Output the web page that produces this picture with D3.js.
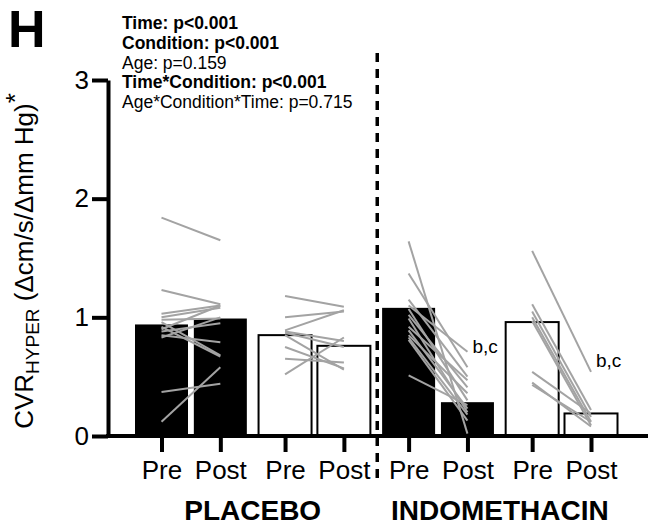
<!DOCTYPE html>
<html>
<head>
<meta charset="utf-8">
<script src="https://cdn.jsdelivr.net/npm/d3@7"></script>
<style>
  body { margin: 0; background: #fff; }
  svg { font-family: "Liberation Sans", Arial, sans-serif; }
</style>
</head>
<body>
<svg id="chart"></svg>
<script>
// values
var groups = ["PLACEBO", "INDOMETHACIN"];
var times = ["Pre", "Post", "Pre", "Post", "Pre", "Post", "Pre", "Post"];
var barAge = ["young", "young", "older", "older", "young", "young", "older", "older"];
var barValues = [0.94, 0.99, 0.85, 0.76, 1.08, 0.285, 0.96, 0.19];
var yTicks = [0, 1, 2, 3];

// individual subjects, [pre, post]
var placeboYoung = [[1.84, 1.65], [1.23, 1.11], [1.03, 1.10], [1.00, 1.08], [0.98, 0.99],
  [0.96, 0.68], [0.92, 0.67], [0.90, 1.10], [0.85, 0.79], [0.83, 1.00],
  [0.88, 0.95], [0.37, 0.44], [0.12, 0.58]];
var placeboOlder = [[1.18, 1.09], [1.00, 1.05], [0.89, 1.06], [0.87, 0.75], [0.85, 0.56],
  [0.88, 0.80], [0.75, 0.57], [0.65, 0.62], [0.52, 0.83]];
var indoYoung = [[1.64, 0.02], [1.37, 0.58], [1.15, 0.50], [1.10, 0.71], [1.07, 0.30],
  [1.02, 0.41], [0.99, 0.20], [0.92, 0.47], [0.89, 0.23], [0.85, 0.36],
  [0.83, 0.18], [0.81, 0.13], [0.51, 0.26]];
var indoOlder = [[1.56, 0.54], [1.11, 0.22], [1.05, 0.16], [1.00, 0.12], [0.97, 0.09],
  [0.54, 0.19], [0.45, 0.08], [0.43, 0.12]];
var subjects = [placeboYoung, placeboOlder, indoYoung, indoOlder];

var stats = [
  {label: "Time: p<0.001", bold: true},
  {label: "Condition: p<0.001", bold: true},
  {label: "Age: p=0.159", bold: false},
  {label: "Time*Condition: p<0.001", bold: true},
  {label: "Age*Condition*Time: p=0.715", bold: false}
];
var sigLabels = [{bar: 5, text: "b,c", value: 0.70}, {bar: 7, text: "b,c", value: 0.58}];

var width = 651;
var height = 525;
var axisX = 108;
var baseY = 436;
var barWidth = 53;

var svg = d3.select("#chart")
  .attr("width", width)
  .attr("height", height);

// slots: a little extra room between pairs
var slot = function(i) { return i + Math.floor(i / 2) * 0.1; };
var x = d3.scaleLinear().domain([0, slot(7)]).range([161.5, 591]);
var y = d3.scaleLinear().domain([0, 3]).range([baseY, 80]);

// bars
svg.selectAll(".bar")
  .data(barValues)
  .enter()
  .append("rect")
  .attr("class", "bar")
  .attr("x", function(d, i) { return x(slot(i)) - barWidth / 2; })
  .attr("y", function(d) { return y(d); })
  .attr("width", barWidth)
  .attr("height", function(d) { return baseY - y(d); })
  .attr("fill", function(d, i) { return barAge[i] == "young" ? "#000" : "#fff"; })
  .attr("stroke", "#000")
  .attr("stroke-width", function(d, i) { return barAge[i] == "young" ? 0 : 2; });

// subject lines
subjects.forEach(function(set, k) {
  svg.append("g")
    .selectAll("line")
    .data(set)
    .enter()
    .append("line")
    .attr("x1", x(slot(2 * k)))
    .attr("x2", x(slot(2 * k + 1)))
    .attr("y1", function(d) { return y(d[0]); })
    .attr("y2", function(d) { return y(d[1]); })
    .attr("stroke", "#a3a3a3")
    .attr("stroke-width", 2);
});

// y axis
var yAxis = svg.append("g")
  .attr("transform", "translate(" + axisX + ",0)")
  .call(d3.axisLeft(y).tickValues(yTicks).tickFormat(d3.format("d")).tickSize(16).tickSizeOuter(0).tickPadding(3));
yAxis.select(".domain").attr("stroke-width", 4);
yAxis.selectAll(".tick line").attr("stroke-width", 4);
yAxis.selectAll(".tick text").attr("font-size", "26px").attr("fill", "#000")
  .attr("font-family", "Liberation Sans, Arial, sans-serif");

// x axis ticks + Pre/Post
var xAxis = svg.append("g")
  .attr("transform", "translate(0," + baseY + ")")
  .call(d3.axisBottom(x).tickValues(d3.range(8).map(slot))
    .tickFormat(function(d, i) { return times[i]; }).tickSize(16).tickPadding(9));
xAxis.select(".domain").remove();
xAxis.selectAll(".tick line").attr("stroke-width", 4);
xAxis.selectAll(".tick text").attr("font-size", "26px").attr("fill", "#000")
  .attr("font-family", "Liberation Sans, Arial, sans-serif");

svg.append("line")
  .attr("x1", axisX - 2)
  .attr("x2", 648)
  .attr("y1", baseY)
  .attr("y2", baseY)
  .attr("stroke", "#000")
  .attr("stroke-width", 4);

// dashed divider
svg.append("line")
  .attr("x1", x((slot(3) + slot(4)) / 2) + 1)
  .attr("x2", x((slot(3) + slot(4)) / 2) + 1)
  .attr("y1", 53)
  .attr("y2", 478)
  .attr("stroke", "#000")
  .attr("stroke-width", 3.5)
  .attr("stroke-dasharray", "9,7");

// group names
svg.selectAll(".group")
  .data(groups)
  .enter()
  .append("text")
  .attr("class", "group")
  .attr("x", function(d, i) { return (x(slot(4 * i)) + x(slot(4 * i + 3))) / 2; })
  .attr("y", 520)
  .attr("text-anchor", "middle")
  .attr("font-size", "28px")
  .attr("font-weight", "bold")
  .text(function(d) { return d; });

// significance letters
svg.selectAll(".sig")
  .data(sigLabels)
  .enter()
  .append("text")
  .attr("class", "sig")
  .attr("x", function(d) { return x(slot(d.bar)) + 5; })
  .attr("y", function(d) { return y(d.value); })
  .attr("font-size", "19px")
  .text(function(d) { return d.text; });

// stats block
svg.selectAll(".stat")
  .data(stats)
  .enter()
  .append("text")
  .attr("class", "stat")
  .attr("x", 122)
  .attr("y", function(d, i) { return 29 + i * 19.8; })
  .attr("font-size", "17.5px")
  .attr("font-weight", function(d) { return d.bold ? "bold" : "normal"; })
  .text(function(d) { return d.label; });

// panel letter
svg.append("text")
  .attr("x", 8)
  .attr("y", 47)
  .attr("font-size", "52px")
  .attr("font-weight", "bold")
  .text("H");

// y title
var title = svg.append("text")
  .attr("transform", "translate(33,261) rotate(-90)")
  .attr("text-anchor", "middle")
  .attr("font-size", "26px");
title.append("tspan").text("CVR");
title.append("tspan").attr("font-size", "19px").attr("dy", 6).text("HYPER");
title.append("tspan").attr("dy", -6).text(" (\u0394cm/s/\u0394mm Hg)");
title.append("tspan").attr("dy", -9).text("*");
</script>
</body>
</html>
